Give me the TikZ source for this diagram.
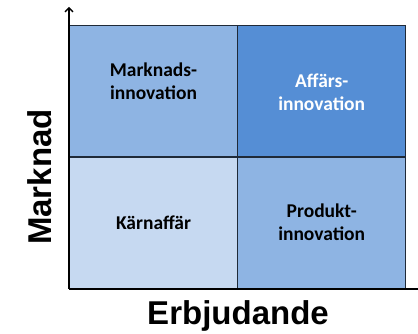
\documentclass[tikz,border=0pt]{standalone}
\usepackage{fontspec}
\setmainfont{Carlito}
\newfontfamily\axisfont{Liberation Sans}
\usetikzlibrary{arrows.meta}
\definecolor{cmid}{HTML}{8EB4E3}
\definecolor{cdark}{HTML}{558ED5}
\definecolor{clight}{HTML}{C6D9F1}
\definecolor{gridline}{HTML}{1F2A38}
\tikzset{
  cell/.style={draw=gridline, line width=0.9pt, minimum width=168pt, minimum height=131pt, inner sep=0pt, outer sep=0pt},
  lbl/.style={align=center, font=\bfseries\fontsize{19.5}{23}\selectfont, inner sep=0pt},
  axis/.style={line width=1.8pt, black},
  axlbl/.style={font=\axisfont\bfseries\fontsize{33}{36}\selectfont, inner sep=0pt}
}
\begin{document}
\begin{tikzpicture}[x=1pt,y=1pt]
\useasboundingbox (0,0) rectangle (418,334);
\node[cell, fill=cmid, anchor=south west] (tl) at (69.5,177.5) {};
\node[cell, fill=cdark, anchor=south west] (tr) at (237.7,177.5) {};
\node[cell, fill=clight, anchor=south west] (bl) at (69.5,46) {};
\node[cell, fill=cmid, anchor=south west] (br) at (237.7,46) {};
\node[lbl] (tlt) at ([yshift=10pt]tl.center) {Marknads-\\innovation};
\node[lbl, text=white] (trt) at ([yshift=-1pt]tr.center) {Affärs-\\innovation};
\node[lbl] (blt) at ([yshift=0pt]bl.center) {Kärnaffär};
\node[lbl] (brt) at ([yshift=0pt]br.center) {Produkt-\\innovation};
\coordinate (O) at (69,45);
\coordinate (Ytop) at (69,327);
\coordinate (Xend) at (418,45);
\draw[axis, -{Straight Barb[length=4pt,width=8pt,line width=1.4pt]}] (O) -- (Ytop);
\draw[axis] (O) -- (Xend);
\node[axlbl, anchor=base] (xl) at (238,9) {Erbjudande};
\node[axlbl, rotate=90, anchor=base] (yl) at (51,157) {Marknad};
\end{tikzpicture}
\end{document}
